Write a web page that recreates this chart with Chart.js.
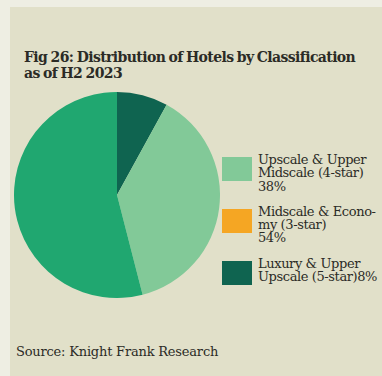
<!DOCTYPE html>
<html>
<head>
<meta charset="utf-8">
<script src="https://cdn.jsdelivr.net/npm/chart.js@4.4.0/dist/chart.umd.min.js"></script>
<style>
  html, body { margin: 0; padding: 0; }
  body { width: 382px; height: 376px; background: #eeeee3; position: relative; overflow: hidden; font-family: "DejaVu Serif", serif; color: #2b2b26; }
  #panel { position: absolute; left: 10px; top: 7px; width: 372px; height: 369px; background: #e1e0c9; }
  #title { position: absolute; left: 24px; top: 49px; width: 350px; font-weight: bold; font-size: 14px; line-height: 16px; letter-spacing: -0.6px; word-spacing: -1px; }
  #pieBox { position: absolute; left: 14px; top: 92px; width: 206px; height: 206px; }
  #legend { position: absolute; left: 222px; top: 153px; width: 160px; }
  .item { display: flex; align-items: flex-start; margin-bottom: 12px; }
  .sw { width: 30px; height: 24px; flex: none; margin-top: 4px; }
  .txt { margin-left: 6px; width: 124px; font-size: 13px; line-height: 13.3px; letter-spacing: -0.4px; }
  #source { position: absolute; left: 16px; top: 344px; font-size: 13px; letter-spacing: -0.2px; }
</style>
</head>
<body>
<div id="panel"></div>
<div id="title">Fig 26: Distribution of Hotels by Classification as of H2 2023</div>
<div id="pieBox"><canvas id="pie"></canvas></div>
<div id="legend"></div>
<div id="source">Source: Knight Frank Research</div>
<script>
const categories = ["Upscale & Upper Midscale (4-star)", "Midscale & Econo\u00ADmy (3-star)", "Luxury & Upper Upscale (5-star)"];
const shares = [38, 54, 8];
const sliceColours = ["#82c998", "#20a770", "#0f6450"];
const legendColours = ["#82c998", "#f5a623", "#0f6450"];
// slices go clockwise from the top: 5-star, 4-star, 3-star
const pieOrder = [2, 0, 1];

const data = {
  labels: pieOrder.map(i => categories[i]),
  datasets: [
    {
      data: pieOrder.map(i => shares[i]),
      backgroundColor: pieOrder.map(i => sliceColours[i]),
      borderWidth: 0,
    },
  ],
};

const config = {
  type: "pie",
  data,
  options: {
    responsive: true,
    maintainAspectRatio: false,
    animation: false,
    layout: { padding: 0 },
    plugins: {
      legend: { display: false },
      tooltip: { enabled: false },
    },
  },
};

const pieChart = new Chart(document.getElementById("pie"), config);

// legend drawn as html so the labels can wrap;
// the last entry keeps its share on the same line
const legend = document.getElementById("legend");
categories.forEach((name, i) => {
  const item = document.createElement("div");
  item.className = "item";
  const sw = document.createElement("div");
  sw.className = "sw";
  sw.style.background = legendColours[i];
  const txt = document.createElement("div");
  txt.className = "txt";
  txt.appendChild(document.createTextNode(name));
  if (i < categories.length - 1) txt.appendChild(document.createElement("br"));
  txt.appendChild(document.createTextNode(shares[i] + "%"));
  item.appendChild(sw);
  item.appendChild(txt);
  legend.appendChild(item);
});
</script>
</body>
</html>
